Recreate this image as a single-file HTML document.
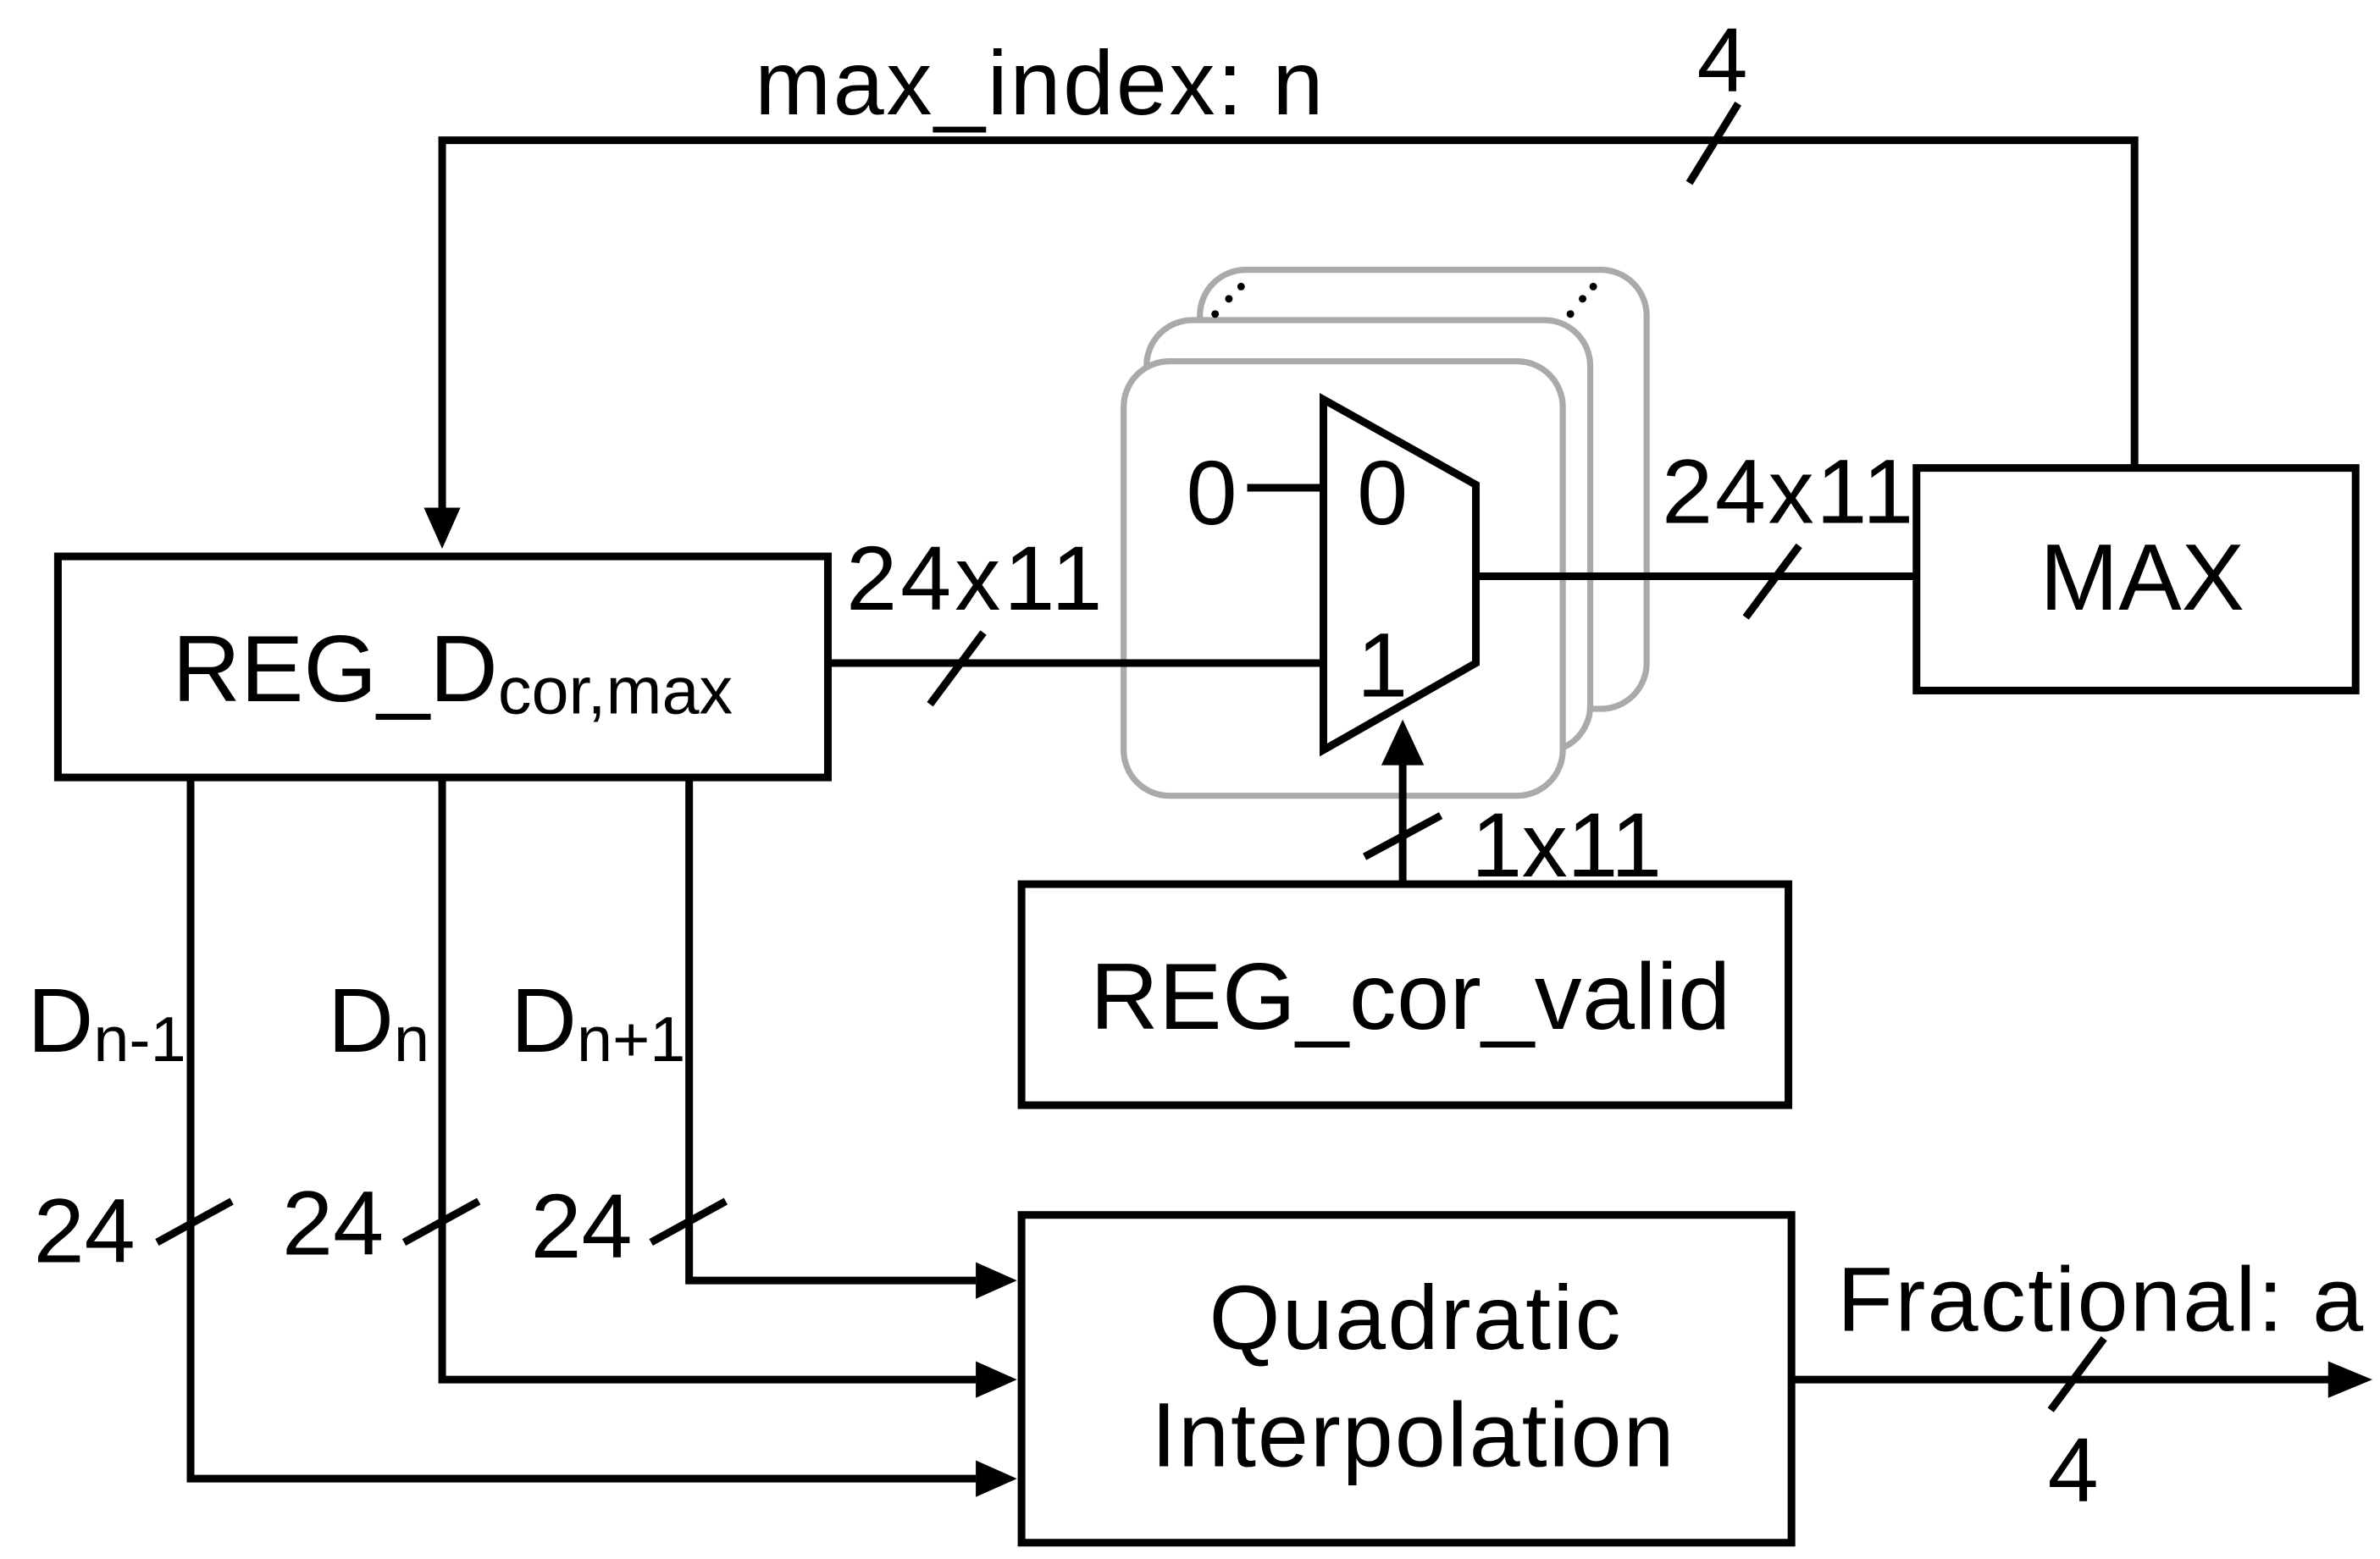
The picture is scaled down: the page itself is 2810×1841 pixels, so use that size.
<!DOCTYPE html>
<html><head><style>html,body{margin:0;padding:0;background:#fff}svg{display:block}</style></head>
<body>
<svg width="2810" height="1841" viewBox="0 0 1561 1022.7" xmlns="http://www.w3.org/2000/svg" font-family="Liberation Sans, Arial, sans-serif">
<g fill="none" stroke="#000" stroke-width="5">
<polyline points="290,333 290,92 1400,92 1400,307"/>
<path d="M278,333 L302,333 L290,360 z" fill="#000" stroke="none"/>
<line x1="1108" y1="120" x2="1140" y2="68"/>
<rect x="38" y="365" width="505" height="145"/>
</g>
<g fill="#fff" stroke="#aaa" stroke-width="4">
<rect x="787" y="177" width="293" height="288" rx="30"/>
<rect x="752" y="210" width="291" height="283" rx="30"/>
<rect x="737" y="237" width="288" height="285" rx="30"/>
</g>
<g fill="#000"><circle cx="797" cy="206" r="2.5"/><circle cx="806" cy="196" r="2.5"/><circle cx="814" cy="188" r="2.5"/><circle cx="1030" cy="206" r="2.5"/><circle cx="1038" cy="196" r="2.5"/><circle cx="1045" cy="188" r="2.5"/></g>
<g fill="none" stroke="#000" stroke-width="5">
<line x1="543" y1="435" x2="868" y2="435"/>
<line x1="610" y1="462" x2="645" y2="415"/>
<polygon points="868,262 968,318 968,435 868,492" fill="#fff"/>
<line x1="818" y1="320" x2="868" y2="320"/>
<line x1="968" y1="378" x2="1257" y2="378"/>
<line x1="1145" y1="405" x2="1180" y2="358"/>
<rect x="1257" y="307" width="288" height="146"/>
<line x1="920" y1="580" x2="920" y2="500"/>
<line x1="895" y1="562" x2="945" y2="535"/>
<rect x="670" y="580" width="503" height="145"/>
<polyline points="125,510 125,970 640,970"/>
<polyline points="290,510 290,905 640,905"/>
<polyline points="452,510 452,840 640,840"/>
<line x1="103" y1="815" x2="152" y2="788"/>
<line x1="265" y1="815" x2="314" y2="788"/>
<line x1="427" y1="815" x2="476" y2="788"/>
<rect x="670" y="797" width="505" height="215"/>
<line x1="1175" y1="905" x2="1528" y2="905"/>
<line x1="1345" y1="925" x2="1380" y2="878"/>
</g>
<g fill="#000">
<path d="M906,502 L934,502 L920,472 z"/>
<path d="M640,828 L667,840 L640,852 z"/>
<path d="M640,893 L667,905 L640,917 z"/>
<path d="M640,958 L667,970 L640,982 z"/>
<path d="M1527,893 L1556,905 L1527,917 z"/>
</g>
<g fill="#000" font-size="60">
<text x="495" y="75" textLength="373">max_index: n</text>
<text x="1113" y="60">4</text>
<text x="113" y="460" font-size="62">REG_D<tspan font-size="44" dy="8">cor,max</tspan></text>
<text x="555" y="400" textLength="168">24x11</text>
<text x="1090" y="343" textLength="165">24x11</text>
<text x="778" y="344">0</text>
<text x="890" y="344">0</text>
<text x="890" y="457">1</text>
<text x="1405" y="400" text-anchor="middle" font-size="62">MAX</text>
<text x="965" y="575" textLength="125">1x11</text>
<text x="715" y="675" textLength="420" font-size="62">REG_cor_valid</text>
<text x="18" y="690">D<tspan font-size="42" dy="6">n-1</tspan></text>
<text x="215" y="690">D<tspan font-size="42" dy="6">n</tspan></text>
<text x="335" y="690">D<tspan font-size="42" dy="6">n+1</tspan></text>
<text x="22" y="828">24</text>
<text x="185" y="823">24</text>
<text x="348" y="825">24</text>
<text x="793" y="885" textLength="270">Quadratic</text>
<text x="755" y="962" textLength="343">Interpolation</text>
<text x="1205" y="873" textLength="345">Fractional: a</text>
<text x="1343" y="985">4</text>
</g>
</svg>
</body></html>
